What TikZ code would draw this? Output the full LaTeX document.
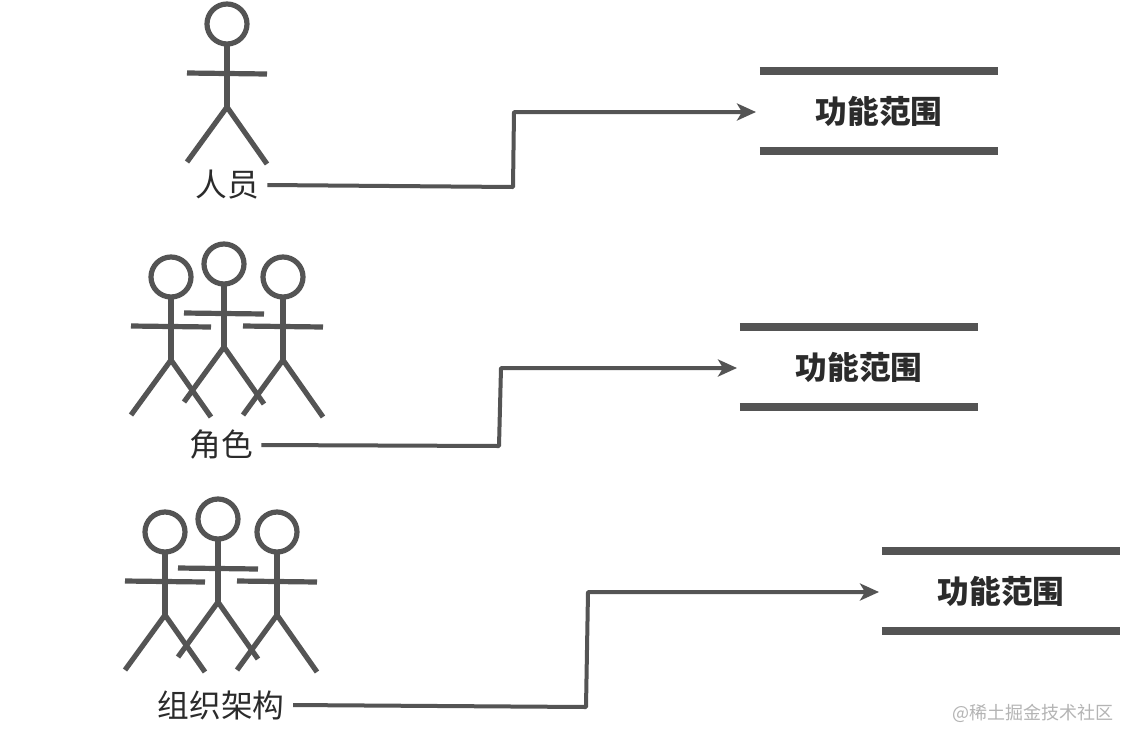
\documentclass[tikz,border=0pt]{standalone}
\usepackage{fontspec}
\setmainfont{Noto Sans CJK SC}
\usetikzlibrary{arrows.meta}
\definecolor{ink}{HTML}{545454}
\definecolor{txt}{HTML}{2B2B2B}
\definecolor{mark}{HTML}{B4B4B4}
\tikzset{
  x=1pt,y=-1pt,
  stick/.style={draw=ink,line width=5.2pt,line cap=butt},
  link/.style={draw=ink,line width=4pt,line join=round,-{Stealth[length=19pt,width=17pt,inset=5pt]}},
  who/.style={inner sep=0pt,inner xsep=8.5pt,text=txt,font=\fontsize{31.7}{34}\selectfont},
  scopebox/.style={inner sep=0pt,minimum width=238pt,minimum height=80pt,text=txt,font=\fontsize{31.7}{34}\selectfont\bfseries},
  bar/.style={draw=ink,line width=8pt},
  person/.pic={
    \draw[stick] (0,0) circle[radius=20];
    \draw[stick] (0,20) -- (0,84);
    \draw[stick] (-40,49) -- (40,50);
    \draw[stick] (-40,138) -- (0,83) -- (40,140);
  }
}
\begin{document}
\begin{tikzpicture}
\useasboundingbox (0,0) rectangle (1134,745);
\fill[white] (0,0) rectangle (1134,745);

\pic at (227,24) {person};
\pic at (171,277) {person};
\pic at (224,264) {person};
\pic at (283,277) {person};
\pic at (165,532) {person};
\pic at (218,519) {person};
\pic at (277,532) {person};

\node[who] (p1) at (227,185) {人员};
\node[who] (p2) at (221,445) {角色};
\node[who] (p3) at (221,705) {组织架构};

\node[scopebox] (f1) at (879,111) {功能范围};
\node[scopebox] (f2) at (859,367) {功能范围};
\node[scopebox] (f3) at (1001,591) {功能范围};

\foreach \n in {f1,f2,f3}{
  \draw[bar] (\n.north west) -- (\n.north east);
  \draw[bar] (\n.south west) -- (\n.south east);
}

\coordinate (a1) at (513,187);
\coordinate (b1) at (514,112);
\coordinate (e1) at (756,112);
\coordinate (a2) at (499,446);
\coordinate (b2) at (501,368);
\coordinate (e2) at (737,368);
\coordinate (a3) at (586,707);
\coordinate (b3) at (588,592);
\coordinate (e3) at (879,592);

\draw[link] (p1.east) -- (a1) -- (b1) -- (e1);
\draw[link] (p2.east) -- (a2) -- (b2) -- (e2);
\draw[link] (p3.east) -- (a3) -- (b3) -- (e3);

\node[inner sep=0pt,text=mark,font=\fontsize{18}{20}\selectfont] (wm) at (1032.5,713) {@稀土掘金技术社区};
\end{tikzpicture}
\end{document}
